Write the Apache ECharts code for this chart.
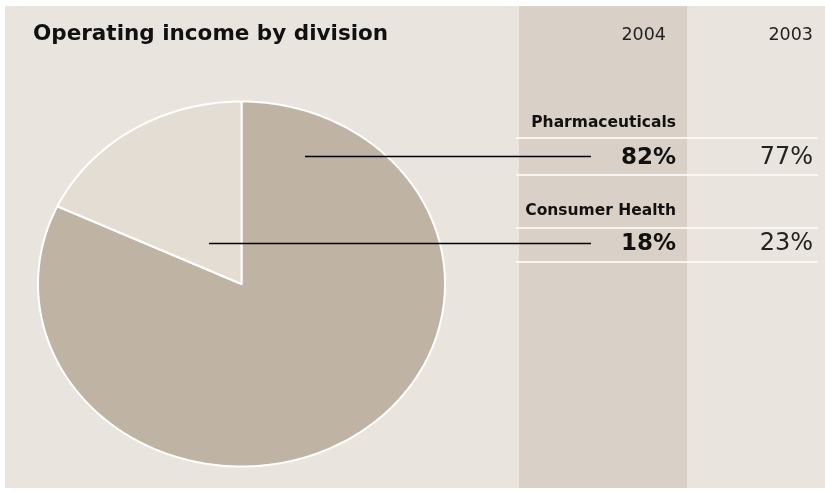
<!DOCTYPE html>
<html>
<head>
<meta charset="utf-8">
<script src="https://cdn.jsdelivr.net/npm/echarts@6/dist/echarts.min.js"></script>
<style>
  html, body { margin: 0; padding: 0; background: #ffffff; }
  #chart { width: 825px; height: 491px; }
</style>
</head>
<body>
<div id="chart"></div>
<script>
// Operating income share by division
const divisions = ['Pharmaceuticals', 'Consumer Health'];
const share2004 = [82, 18];
const share2003 = [77, 23];
const years = ['2004', '2003'];
const titleText = 'Operating income by division';

const sliceColors = ['#bfb3a3', '#e4ddd4'];
const FONT = '"DejaVu Sans", sans-serif';

const chart = echarts.init(document.getElementById('chart'), null, { renderer: 'canvas' });

// Elliptical pie geometry
const pie = { cx: 241.5, cy: 284, rx: 203.5, ry: 182.5 };
const total = share2004.reduce((a, b) => a + b, 0);

function slicePoints(startFrac, endFrac) {
  const pts = [[pie.cx, pie.cy]];
  const steps = Math.max(8, Math.ceil((endFrac - startFrac) * 360));
  for (let i = 0; i <= steps; i++) {
    const t = (startFrac + (endFrac - startFrac) * i / steps) * Math.PI * 2;
    pts.push([pie.cx + pie.rx * Math.sin(t), pie.cy - pie.ry * Math.cos(t)]);
  }
  return pts;
}

// Table layout
const col2004Right = 676;
const col2003Right = 813;
const rowLabelY = [123, 211];
const rowValueY = [158, 244];
const rowRules = [138, 175, 228, 262];
const leaderStartX = [305, 209];
const leaderEndX = 591;
const leaderY = [156.5, 243.5];

const graphics = [
  // panel background
  { type: 'rect', z: -10, shape: { x: 5, y: 6, width: 820, height: 482 }, style: { fill: '#e9e4dd' } },
  // 2004 column band
  { type: 'rect', z: -9, shape: { x: 519, y: 6, width: 168, height: 482 }, style: { fill: '#d9d1c7' } },
  // title
  { type: 'text', x: 33, y: 34, style: { text: titleText, font: 'bold 21.5px ' + FONT, fill: '#111', textAlign: 'left', textVerticalAlign: 'middle' } },
  // year headers
  { type: 'text', x: col2004Right - 10, y: 35, style: { text: years[0], font: '17.5px ' + FONT, fill: '#222', textAlign: 'right', textVerticalAlign: 'middle' } },
  { type: 'text', x: col2003Right, y: 35, style: { text: years[1], font: '17.5px ' + FONT, fill: '#222', textAlign: 'right', textVerticalAlign: 'middle' } }
];

rowRules.forEach(y => {
  graphics.push({ type: 'line', z: 5, shape: { x1: 516, y1: y, x2: 818, y2: y }, style: { stroke: '#ffffff', lineWidth: 1.5 } });
});

divisions.forEach((name, i) => {
  graphics.push(
    { type: 'text', z: 10, x: col2004Right, y: rowLabelY[i], style: { text: name, font: 'bold 15.5px ' + FONT, fill: '#111', textAlign: 'right', textVerticalAlign: 'middle' } },
    { type: 'text', z: 10, x: col2004Right, y: rowValueY[i], style: { text: share2004[i] + '%', font: 'bold 23px ' + FONT, fill: '#111', textAlign: 'right', textVerticalAlign: 'middle' } },
    { type: 'text', z: 10, x: col2003Right, y: rowValueY[i], style: { text: share2003[i] + '%', font: '24px ' + FONT, fill: '#222', textAlign: 'right', textVerticalAlign: 'middle' } },
    { type: 'line', z: 20, shape: { x1: leaderStartX[i], y1: leaderY[i], x2: leaderEndX, y2: leaderY[i] }, style: { stroke: '#000', lineWidth: 1.4 } }
  );
});

const option = {
  animation: false,
  backgroundColor: '#ffffff',
  graphic: graphics,
  series: [{
    type: 'custom',
    coordinateSystem: 'none',
    z: 2,
    data: share2004.map((v, i) => ({ name: divisions[i], value: v })),
    renderItem: function (params) {
      const i = params.dataIndex;
      let before = 0;
      for (let k = 0; k < i; k++) before += share2004[k];
      const start = before / total;
      const end = (before + share2004[i]) / total;
      return {
        type: 'polygon',
        shape: { points: slicePoints(start, end) },
        style: { fill: sliceColors[i], stroke: '#ffffff', lineWidth: 2, lineJoin: 'round' }
      };
    }
  }]
};

chart.setOption(option);
</script>
</body>
</html>
